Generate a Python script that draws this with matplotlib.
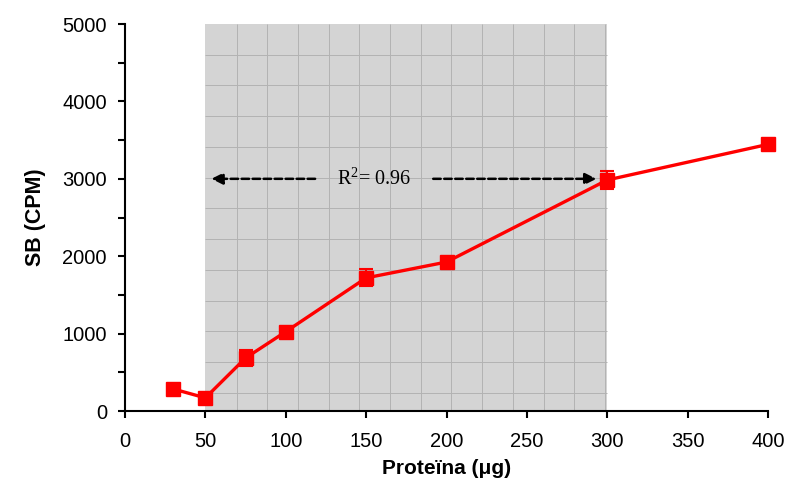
import numpy as np
import matplotlib
matplotlib.use('Agg')
import matplotlib.pyplot as plt
from matplotlib.patches import Rectangle
from matplotlib.ticker import MultipleLocator

# Data
protein = [30, 50, 75, 100, 150, 200, 300, 400]
sb = [285, 170, 685, 1025, 1720, 1925, 2985, 3445]
sbErr = [30, 30, 100, 40, 110, 60, 120, 40]

# Linear range shaded in the original
rangeLo, rangeHi = 50, 300
r2Text = r'$\mathregular{R^2}$= 0.96'

plt.rcParams['font.family'] = ['Liberation Sans', 'DejaVu Sans']
plt.rcParams['mathtext.fontset'] = 'custom'
plt.rcParams['mathtext.rm'] = 'Liberation Serif'

fig = plt.figure(figsize=(7.9, 4.83), dpi=100)
ax = fig.add_axes([0.1582, 0.149, 0.814, 0.8013])

# Shaded region with its grid pattern
ax.add_patch(Rectangle((rangeLo, 0), rangeHi - rangeLo, 5000,
                       facecolor='#d4d4d4', edgecolor='none', zorder=0))
xs = np.arange(rangeLo + 19.4, rangeHi, 19.1)
ys = np.arange(5000 - 397, 0, -397)
ax.vlines(xs, 0, 5000, colors='#b2b2b2', linewidth=0.7, zorder=0.5)
ax.hlines(ys, rangeLo, rangeHi, colors='#b2b2b2', linewidth=0.7,
          zorder=0.5)

ax.errorbar(protein, sb, yerr=sbErr, color='#ff0000', linewidth=2.4,
            marker='s', markersize=10.5, capsize=5, elinewidth=1.5,
            capthick=1.5, zorder=3, clip_on=False)

# R^2 annotation with dashed arrows
ax.text(155, 2990, r2Text, family='Liberation Serif', fontsize=14.5,
        ha='center', va='center', zorder=4)
arrowStyle = dict(arrowstyle='-|>', linestyle=(0, (3, 1.4)),
                  color='black', linewidth=1.8, mutation_scale=17)
ax.annotate('', xy=(52, 3000), xytext=(120, 3000),
            arrowprops=arrowStyle, zorder=4)
ax.annotate('', xy=(295, 3000), xytext=(190, 3000),
            arrowprops=arrowStyle, zorder=4)

ax.set_xlim(0, 400)
ax.set_ylim(0, 5000)
ax.set_xticks(np.arange(0, 401, 50))
ax.set_yticks(np.arange(0, 5001, 1000))
ax.yaxis.set_minor_locator(MultipleLocator(500))
ax.spines['top'].set_visible(False)
ax.spines['right'].set_visible(False)
ax.spines['left'].set_linewidth(1.5)
ax.spines['bottom'].set_linewidth(1.5)
ax.tick_params(direction='out', length=5, width=1.5, labelsize=14.5)
ax.tick_params(axis='x', pad=10)
ax.tick_params(axis='y', pad=8)
ax.tick_params(which='minor', direction='out', length=5, width=1.5)
ax.set_xlabel('Proteïna (μg)', fontsize=15, fontweight='bold',
              labelpad=6)
ax.set_ylabel('SB (CPM)', fontsize=15.5, fontweight='bold', labelpad=12)

fig.savefig('out.png', dpi=100)
